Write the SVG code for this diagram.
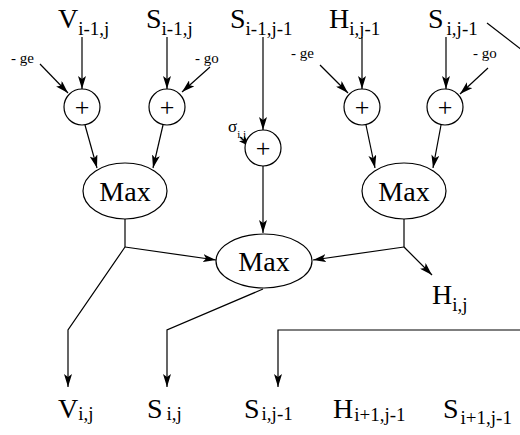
<svg xmlns="http://www.w3.org/2000/svg" width="520" height="435" viewBox="0 0 520 435">
<style>
text{font-family:"Liberation Serif","Times New Roman",serif;fill:#000}
.big{font-size:28px}
.sub{font-size:19px}
.small{font-size:15px}
.plus{font-size:26px}
.node{fill:#fff;stroke:#000;stroke-width:1.2}
.c line,.c polyline{stroke:#000;stroke-width:1.2;fill:none}
.a{marker-end:url(#ah)}
</style>
<defs>
<marker id="ah" markerUnits="userSpaceOnUse" markerWidth="14" markerHeight="8" refX="13" refY="4" orient="auto">
<path d="M0,0 L13,4 L0,8 L3,4 Z" fill="#000"/>
</marker>
</defs>
<g id="labels-top">
<text class="big" x="58" y="28">V<tspan class="sub" dy="7">i-1,j</tspan></text>
<text class="big" x="146" y="28">S<tspan class="sub" dy="7">i-1,j</tspan></text>
<text class="big" x="230" y="28">S<tspan class="sub" dy="7">i-1,j-1</tspan></text>
<text class="big" x="329" y="28">H<tspan class="sub" dy="7">i,j-1</tspan></text>
<text class="big" x="428" y="28">S<tspan class="sub" dx="3" dy="7">i,j-1</tspan></text>
<text class="small" x="11" y="63">- ge</text>
<text class="small" x="195" y="63">- go</text>
<text class="small" x="291" y="58">- ge</text>
<text class="small" x="473" y="58">- go</text>
<text x="228" y="132" style="font-size:17px">σ<tspan dy="6" style="font-size:11px">i,j</tspan></text>
</g>
<g id="connectors" class="c">
<line class="a" x1="82" y1="37" x2="82" y2="89"/>
<line class="a" x1="167" y1="37" x2="167" y2="89"/>
<line class="a" x1="263" y1="37" x2="263" y2="130"/>
<line class="a" x1="362" y1="37" x2="362" y2="89"/>
<line class="a" x1="446" y1="37" x2="446" y2="89"/>
<line class="a" x1="40" y1="64" x2="68" y2="93"/>
<line class="a" x1="210" y1="67" x2="182" y2="92"/>
<line class="a" x1="320" y1="65" x2="348" y2="93"/>
<line class="a" x1="488" y1="68" x2="460" y2="94"/>
<line class="a" x1="240" y1="137" x2="251" y2="147"/>
<line class="a" x1="85" y1="125" x2="97" y2="168"/>
<line class="a" x1="163" y1="125" x2="153" y2="168"/>
<line class="a" x1="366" y1="125" x2="375" y2="168"/>
<line class="a" x1="441" y1="125" x2="433" y2="168"/>
<line class="a" x1="263" y1="166" x2="263" y2="233"/>
<line x1="125" y1="219" x2="125" y2="247"/>
<line class="a" x1="125" y1="247" x2="216" y2="260"/>
<polyline class="a" points="125,247 68,330 68,387"/>
<line x1="404" y1="219" x2="404" y2="247"/>
<line class="a" x1="404" y1="247" x2="313" y2="260"/>
<line class="a" x1="404" y1="247" x2="432" y2="275"/>
<polyline class="a" points="263,289 167,330 167,387"/>
<line x1="487" y1="23" x2="522" y2="50"/>
<polyline class="a" points="522,330 278,330 278,387"/>
</g>
<g id="plus1"><circle class="node" cx="82" cy="107" r="18"/><text class="plus" x="82" y="116" text-anchor="middle">+</text></g>
<g id="plus2"><circle class="node" cx="167" cy="107" r="18"/><text class="plus" x="167" y="116" text-anchor="middle">+</text></g>
<g id="plus3"><circle class="node" cx="263" cy="148" r="18"/><text class="plus" x="263" y="157" text-anchor="middle">+</text></g>
<g id="plus4"><circle class="node" cx="362" cy="107" r="18"/><text class="plus" x="362" y="116" text-anchor="middle">+</text></g>
<g id="plus5"><circle class="node" cx="445" cy="107" r="18"/><text class="plus" x="445" y="116" text-anchor="middle">+</text></g>
<g id="max1"><ellipse class="node" cx="125" cy="191" rx="42" ry="28"/><text class="big" x="125" y="201" text-anchor="middle">Max</text></g>
<g id="max2"><ellipse class="node" cx="404" cy="191" rx="42" ry="28"/><text class="big" x="404" y="201" text-anchor="middle">Max</text></g>
<g id="max3"><ellipse class="node" cx="264" cy="261" rx="48" ry="27"/><text class="big" x="264" y="271" text-anchor="middle">Max</text></g>
<g id="labels-out">
<text class="big" x="432" y="304">H<tspan class="sub" dy="7">i,j</tspan></text>
<text class="big" x="58" y="418">V<tspan class="sub" dy="2">i,j</tspan></text>
<text class="big" x="147" y="418">S<tspan class="sub" dx="4" dy="2">i,j</tspan></text>
<text class="big" x="244" y="418">S<tspan class="sub" dx="2" dy="2">i,j-1</tspan></text>
<text class="big" x="333" y="418">H<tspan class="sub" dx="1" dy="3">i+1,j-1</tspan></text>
<text class="big" x="443" y="418">S<tspan class="sub" dx="2" dy="6">i+1,j-1</tspan></text>
</g>
</svg>
